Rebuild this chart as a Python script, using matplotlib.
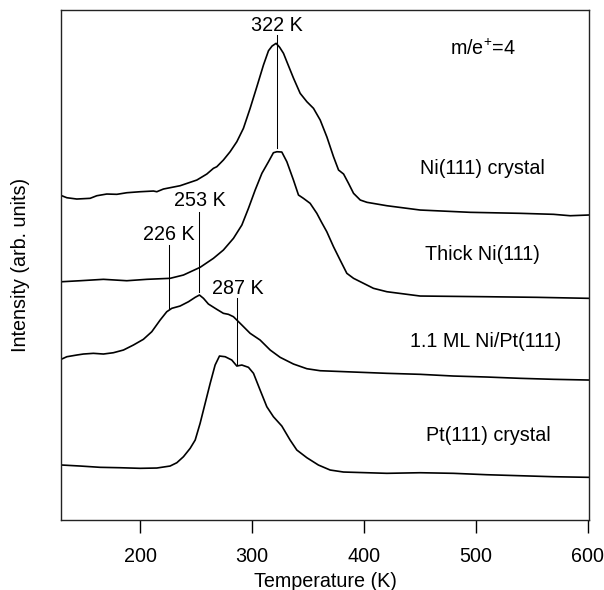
import matplotlib
matplotlib.use("Agg")
import matplotlib.pyplot as plt

plt.rcParams['font.family'] = ['Liberation Sans', 'DejaVu Sans']
plt.rcParams['mathtext.fontset'] = 'custom'
plt.rcParams['mathtext.rm'] = 'Liberation Sans'
plt.rcParams['mathtext.default'] = 'regular'

# ---- data (temperature in K, intensity in arbitrary offset units) ----
ni_crystal_T = [130.0, 134.5, 143.4, 155.3, 161.3, 170.2, 179.2, 188.1, 200.0, 211.9,
                214.9, 220.8, 235.7, 250.7, 259.6, 265.5, 268.5, 274.4, 280.4, 286.4,
                292.3, 298.3, 304.3, 310.2, 314.7, 317.9, 321.5, 324.7, 328.1, 331.1,
                337.1, 343.0, 349.0, 354.9, 360.9, 366.9, 372.8, 377.3, 381.8, 386.2,
                390.7, 396.7, 402.7, 420.5, 450.2, 494.9, 539.6, 569.4, 584.3, 600.6]
ni_crystal_I = [324.3, 322.3, 321.0, 321.7, 324.3, 326.0, 325.7, 327.3, 328.3, 329.0,
                328.3, 331.0, 334.3, 340.0, 346.0, 351.7, 353.3, 360.0, 368.3, 378.3,
                391.7, 411.7, 433.3, 455.0, 469.3, 474.0, 476.7, 472.7, 466.7, 458.3,
                441.7, 426.7, 418.3, 411.7, 400.0, 383.0, 363.3, 350.0, 346.0, 336.7,
                326.7, 320.0, 317.7, 314.3, 310.0, 307.7, 306.7, 305.7, 304.3, 305.0]

thick_ni_T = [130.0, 146.4, 167.2, 188.1, 206.0, 226.8, 238.7, 253.6, 265.5, 274.4,
              283.4, 290.9, 296.8, 302.8, 308.8, 314.7, 319.1, 322.2, 326.6, 331.1,
              337.0, 341.5, 345.9, 351.9, 357.9, 362.0, 366.8, 372.8, 378.7, 384.7,
              390.7, 399.6, 408.5, 420.5, 450.2, 509.8, 554.5, 600.6]
thick_ni_I = [238.3, 239.3, 240.7, 239.3, 240.7, 241.7, 245.0, 252.7, 261.7, 270.0,
              281.7, 295.0, 311.7, 330.0, 346.7, 358.3, 367.3, 368.3, 368.0, 358.3,
              340.0, 325.0, 321.7, 316.7, 306.7, 298.0, 288.3, 273.3, 260.0, 246.7,
              241.7, 236.7, 231.7, 228.3, 224.0, 223.3, 222.7, 221.7]

ml_T = [130.0, 134.5, 143.4, 149.3, 158.2, 167.2, 176.1, 185.1, 194.0, 202.9,
        210.4, 217.9, 223.8, 228.3, 235.7, 243.2, 249.2, 253.0, 256.6, 261.0,
        268.5, 274.4, 278.9, 283.4, 290.9, 298.3, 307.2, 316.2, 325.1, 337.0,
        349.0, 360.9, 390.6, 420.5, 450.2, 479.9, 509.8, 539.6, 569.4, 600.6]
ml_I = [161.0, 163.3, 165.0, 166.0, 166.7, 166.0, 167.3, 170.0, 175.0, 180.7,
        188.3, 200.0, 208.3, 211.7, 214.0, 218.3, 222.7, 225.0, 221.7, 216.0,
        210.7, 206.7, 205.7, 203.3, 195.0, 186.7, 180.0, 170.0, 162.7, 156.0,
        151.3, 149.3, 148.0, 146.7, 145.7, 144.0, 143.0, 141.7, 140.7, 140.0]

pt_T = [130.0, 146.4, 164.3, 182.1, 200.0, 214.9, 226.8, 232.8, 238.7, 244.7,
        249.2, 253.6, 258.1, 262.6, 267.0, 270.9, 276.0, 281.9, 286.4, 290.9,
        296.8, 301.3, 307.2, 313.2, 319.1, 326.6, 334.0, 340.0, 349.0, 359.3,
        369.8, 381.7, 420.5, 450.2, 479.9, 509.8, 539.6, 569.4, 600.6]
pt_I = [55.0, 54.0, 52.7, 52.3, 51.7, 52.0, 54.0, 57.3, 63.3, 71.7,
        80.0, 96.7, 116.7, 136.7, 155.0, 164.0, 163.3, 160.0, 154.0, 155.0,
        152.7, 146.7, 130.0, 113.3, 103.3, 94.0, 80.0, 70.0, 62.3, 55.0,
        50.0, 48.0, 46.7, 47.3, 46.7, 45.3, 44.3, 43.3, 42.7]

# peak markers: temperature, line top, line bottom, label
peak_T = [322, 253, 226, 287]
peak_top = [485, 308.3, 275, 221.7]
peak_bot = [371.7, 228.3, 212, 155]
peak_label_y = [495, 320, 286, 232]
peak_labels = ['322 K', '253 K', '226 K', '287 K']

series_labels = ['Ni(111) crystal', 'Thick Ni(111)', '1.1 ML Ni/Pt(111)', 'Pt(111) crystal']
series_label_x = [506, 506, 509, 511]
series_label_y = [352, 266, 178.3, 85]

xticks = [200, 300, 400, 500, 600]

# ---- figure ----
fs = 14.2
fig = plt.figure(figsize=(6.04, 5.90), dpi=100)
ax = fig.add_axes([0.101, 0.1186, 0.874, 0.8644])

lw = 1.2
for T, I in [(ni_crystal_T, ni_crystal_I), (thick_ni_T, thick_ni_I), (ml_T, ml_I), (pt_T, pt_I)]:
    ax.plot(T, I, color='black', lw=lw)

for t, y0, y1, lab, ly in zip(peak_T, peak_top, peak_bot, peak_labels, peak_label_y):
    ax.plot([t, t], [y0, y1], color='black', lw=0.75)
    ax.text(t, ly, lab, ha='center', va='center', fontsize=fs)

for lab, x, y in zip(series_labels, series_label_x, series_label_y):
    ax.text(x, y, lab, ha='center', va='center', fontsize=fs)

ax.text(506, 471, r'm/e$^{+}$=4', ha='center', va='center', fontsize=fs)

ax.set_xlim(129.3, 601)
ax.set_ylim(0, 510)
ax.set_xticks(xticks)
ax.set_yticks([])
ax.tick_params(axis='x', direction='out', length=9.5, width=1.0, pad=10, labelsize=fs)
for sp in ax.spines.values():
    sp.set_linewidth(1.0)
    sp.set_color('#222222')

ax.set_xlabel('Temperature (K)', fontsize=fs)
ax.set_ylabel('Intensity (arb. units)', fontsize=fs)
ax.xaxis.set_label_coords(0.5, -0.102)
ax.yaxis.set_label_coords(-0.059, 0.5)

fig.savefig('out.png', dpi=100)
